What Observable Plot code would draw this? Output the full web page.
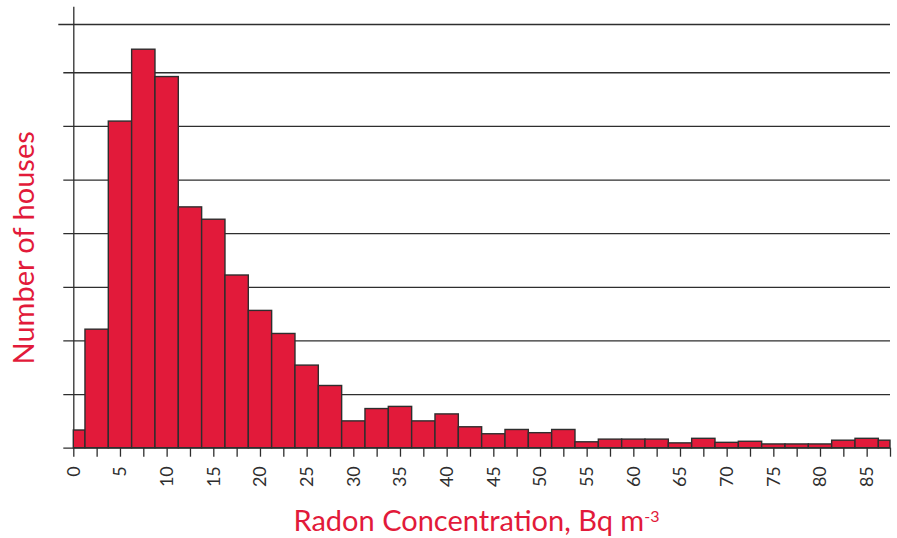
<!DOCTYPE html>
<html>
<head>
<meta charset="utf-8">
<script src="https://cdn.jsdelivr.net/npm/d3@7"></script>
<script src="https://cdn.jsdelivr.net/npm/@observablehq/plot@0.6"></script>
<style>
  html, body { margin: 0; padding: 0; background: #fff; }
  #chart svg { display: block; }
</style>
</head>
<body>
<div id="chart"></div>
<script>
// Bin centres (Bq m^-3), bins 2.5 wide
const binCenters = d3.range(0, 88.75, 2.5);
// Number of houses per bin (relative units; one gridline = 10)
const houseCounts = [3.3, 22.1, 60.9, 74.3, 69.2, 44.9, 42.6, 32.2, 25.6, 21.3,
  15.4, 11.6, 5.0, 7.3, 7.7, 5.0, 6.3, 3.9, 2.6, 3.4,
  2.8, 3.4, 1.1, 1.6, 1.6, 1.6, 0.9, 1.75, 1.0, 1.2,
  0.7, 0.7, 0.7, 1.4, 1.75, 1.4];
const binWidth = 2.5;
const xTicks = d3.range(0, 88, 2.5);
const xLabelTicks = d3.range(0, 86, 5);
const yGrid = [0, 10, 20, 30, 40, 50, 60, 70];
const xMax = 87.5;
const yMax = 79;
const xTitle = "Radon Concentration, Bq m";
const xTitleSup = "-3";
const yTitle = "Number of houses";

const red = "#e21a3a";
const dark = "#2e2e2e";
const font = "Lato, 'DejaVu Sans', sans-serif";

const bars = binCenters.map((c, i) => ({
  x1: Math.max(0, c - binWidth / 2),
  x2: Math.min(xMax, c + binWidth / 2),
  y: houseCounts[i]
}));

const chart = Plot.plot({
  width: 897,
  height: 538,
  marginLeft: 73.3,
  marginRight: 7,
  marginTop: 24,
  marginBottom: 90.3,
  style: { fontFamily: font, background: "#fff" },
  x: { domain: [0, xMax] },
  y: { domain: [0, yMax] },
  marks: [
    Plot.ruleY(yGrid, { stroke: dark, strokeWidth: 1.3, insetLeft: -10 }),
    Plot.ruleY([yMax], { stroke: dark, strokeWidth: 1.3, insetLeft: -15 }),
    Plot.ruleX([0], { y1: 0, y2: 82.2, stroke: dark, strokeWidth: 1.3 }),
    Plot.rectY(bars, { x1: "x1", x2: "x2", y: "y", fill: red, stroke: dark, strokeWidth: 1.4 }),
    Plot.axisX({
      ticks: xTicks,
      tickSize: 9,
      tickPadding: 9,
      tickRotate: -90,
      tickFormat: d => (xLabelTicks.includes(d) ? String(d) : ""),
      fontSize: 18,
      stroke: dark,
      color: dark,
      strokeWidth: 1.3,
      label: null
    }),
    Plot.axisY({ ticks: [], label: null }),
    Plot.text([xTitle], {
      text: d => d,
      frameAnchor: "bottom-left",
      dx: 293 - 73.3,
      dy: 83,
      textAnchor: "start",
      lineAnchor: "bottom",
      fontSize: 29,
      fill: red,
      className: "xtitle"
    }),
    Plot.text([yTitle], {
      text: d => d,
      frameAnchor: "left",
      dx: -73.3 + 24,
      dy: 11.5,
      rotate: -90,
      textAnchor: "middle",
      lineAnchor: "middle",
      fontSize: 29,
      fill: red
    })
  ]
});

// superscript for the unit
d3.select(chart).selectAll("g.xtitle text").each(function () {
  d3.select(this).append("tspan")
    .attr("baseline-shift", "super")
    .attr("font-size", 16)
    .text(xTitleSup);
});

document.getElementById("chart").appendChild(chart);
</script>
</body>
</html>
